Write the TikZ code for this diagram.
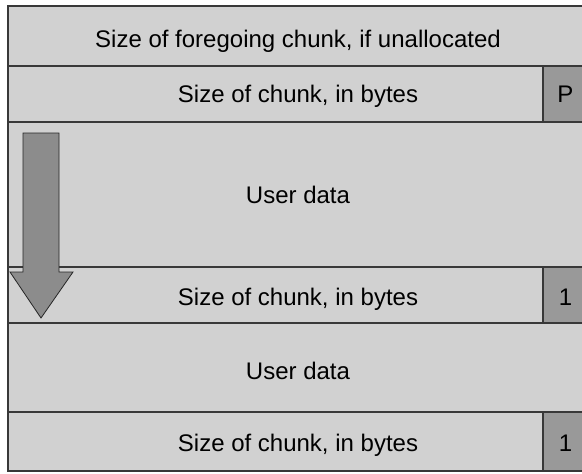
\documentclass[tikz,border=0pt]{standalone}
\usepackage{fontspec}
\setmainfont{Liberation Sans}
\definecolor{chunkgray}{gray}{0.82}
\definecolor{flaggray}{gray}{0.6}
\definecolor{arrowgray}{gray}{0.55}
\definecolor{rulegray}{gray}{0.22}

\begin{document}
\begin{tikzpicture}[x=1pt,y=-1pt,
  field/.style={draw=rulegray,line width=1.4pt,fill=chunkgray,outer sep=0pt,
    inner sep=0pt,minimum width=580pt,anchor=north west,
    text height=17pt,text depth=0pt,
    font=\fontsize{24}{28}\selectfont},
  flag/.style={draw=rulegray,line width=1.4pt,fill=flaggray,outer sep=0pt,
    inner sep=0pt,minimum width=45pt,anchor=north east,
    text height=17pt,text depth=0pt,
    font=\fontsize{24}{28}\selectfont},
  growarrow/.style={draw=black!85,line width=0.8pt,fill=arrowgray,line join=miter}]
\useasboundingbox (0,0) rectangle (582,474);
\clip (0,0) rectangle (582,474);

% chunk fields
\node[field,minimum height=60pt,text height=23pt] (prev) at (8,6) {Size of foregoing chunk, if unallocated};
\node[field,minimum height=56pt] (size) at (8,66) {Size of chunk, in bytes};
\node[field,minimum height=145pt] (data) at (8,122) {User data};
\node[field,minimum height=56pt,text height=20pt] (nsize) at (8,267) {Size of chunk, in bytes};
\node[field,minimum height=89pt,text height=24pt] (ndata) at (8,323) {User data};
\node[field,minimum height=59pt,text height=19pt] (tsize) at (8,412) {Size of chunk, in bytes};

% flag bits
\node[flag,minimum height=56pt] (p) at (size.north east) {P};
\node[flag,minimum height=56pt,text height=20pt] (nbit) at (nsize.north east) {1};
\node[flag,minimum height=59pt,text height=19pt] (tbit) at (tsize.north east) {1};

% direction of growth
\draw[growarrow] (23,133) -- (59,133) -- (59,272) -- (73,272) -- (41,318)
  -- (10,272) -- (23,272) -- cycle;

\end{tikzpicture}
\end{document}
